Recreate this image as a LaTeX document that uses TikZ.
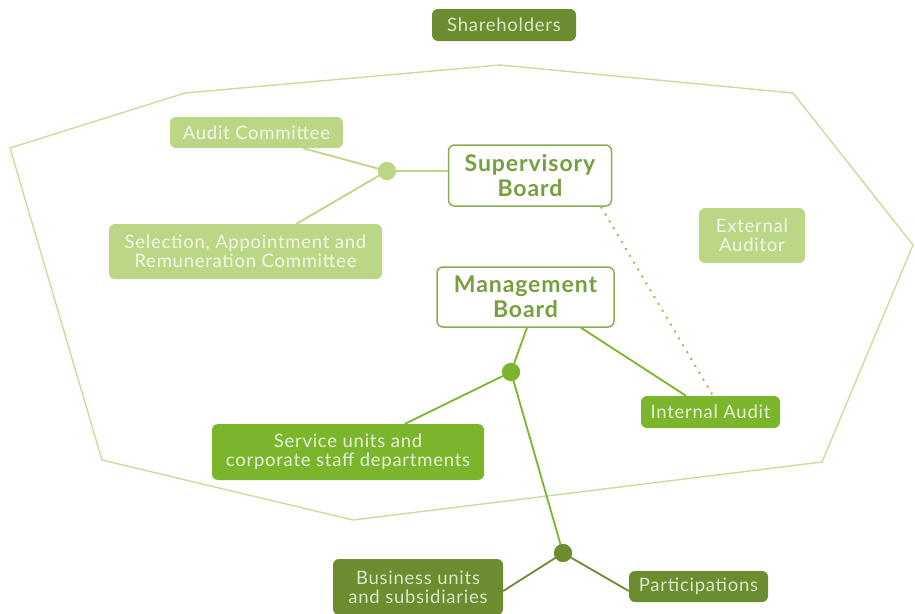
\documentclass[tikz,border=0pt]{standalone}
\usepackage{fontspec}
\setmainfont{Lato}[LetterSpace=4]
\definecolor{lightg}{HTML}{BBD684}
\definecolor{brightg}{HTML}{7BB52B}
\definecolor{darkg}{HTML}{6B8C2F}
\definecolor{frameg}{HTML}{C6DF9C}
\definecolor{boardline}{HTML}{86AF50}
\definecolor{boardtext}{HTML}{76A03E}
\definecolor{txtlight}{HTML}{F3F8EB}
\definecolor{txtbright}{HTML}{E8F1DA}
\definecolor{txtdark}{HTML}{DCE8CA}
\begin{document}
\begin{tikzpicture}[x=1pt,y=-1pt,
  box/.style={rounded corners=6pt, inner sep=0pt, align=center,
    font=\fontsize{18.5}{19}\selectfont},
  lightbox/.style={box, fill=lightg, text=txtlight},
  brightbox/.style={box, fill=brightg, text=txtbright},
  darkbox/.style={box, fill=darkg, text=txtdark},
  boardbox/.style={box, draw=boardline, line width=1.5pt, fill=white, text=boardtext,
    font=\fontsize{23}{25}\selectfont\bfseries},
  frame/.style={draw=frameg, line width=1.4pt, line join=round},
  conn/.style={line width=1.8pt},
  dotline/.style={line width=2pt, dash pattern=on 2pt off 6pt},
  dot/.style={circle, inner sep=0pt, minimum size=18pt}
]
\useasboundingbox (0,0) rectangle (915,613);

% frame polygon
\draw[frame] (10,148) -- (185,93) -- (500,65) -- (793,93) -- (913,245)
  -- (822,462) -- (353,520) -- (102,460) -- cycle;

% nodes
\node[darkbox, minimum width=144pt, minimum height=32pt] (sh) at (504,25) {Shareholders};
\node[lightbox, minimum width=173pt, minimum height=31pt] (ac) at (256.5,132.5) {Audit Committee};
\node[lightbox, minimum width=273pt, minimum height=55pt] (sel) at (245.5,251.5)
  {Selection, Appointment and\\Remuneration Committee};
\node[boardbox, minimum width=163pt, minimum height=61pt] (sb) at (530,175.5) {Supervisory\\Board};
\node[lightbox, minimum width=106pt, minimum height=55pt] (ea) at (752,235.5) {External\\Auditor};
\node[boardbox, minimum width=177pt, minimum height=60pt] (mb) at (525.5,297) {Management\\Board};
\node[brightbox, minimum width=139pt, minimum height=32pt] (ia) at (710.5,412) {Internal Audit};
\node[brightbox, minimum width=272pt, minimum height=56pt] (su) at (348,452)
  {Service units and\\corporate staff departments};
\node[darkbox, minimum width=170pt, minimum height=56pt] (bu) at (418,587)
  {Business units\\and subsidiaries};
\node[darkbox, minimum width=139pt, minimum height=31pt] (pa) at (698.5,586.5) {Participations};

\node[dot, fill=lightg] (d1) at (387,171) {};
\node[dot, fill=brightg] (d2) at (511,372) {};
\node[dot, fill=darkg] (d3) at (563,553) {};

% connectors
\begin{scope}[conn]
\draw[lightg] ([xshift=46.5pt]ac.south) -- (d1.center);
\draw[lightg] ([xshift=51pt]sel.north) -- (d1.center);
\draw[lightg] (d1.center) -- (d1 -| sb.west);
\draw[brightg!80, dotline] ([xshift=71pt]sb.south) -- ([xshift=2.5pt]ia.north);
\draw[brightg] ([xshift=1.5pt]mb.south) -- (d2.center);
\draw[brightg] ([xshift=55.5pt]mb.south) -- ([xshift=-24.5pt]ia.north);
\draw[brightg] (d2.center) -- ([xshift=57pt]su.north);
\draw[brightg] (d2.center) -- (d3.center);
\draw[darkg] (d3.center) -- ([yshift=-4pt]bu.east);
\draw[darkg] (d3.center) -- ([yshift=-4.5pt]pa.west);
\end{scope}
\node[dot, fill=lightg] at (d1) {};
\node[dot, fill=brightg] at (d2) {};
\node[dot, fill=darkg] at (d3) {};
\end{tikzpicture}
\end{document}
